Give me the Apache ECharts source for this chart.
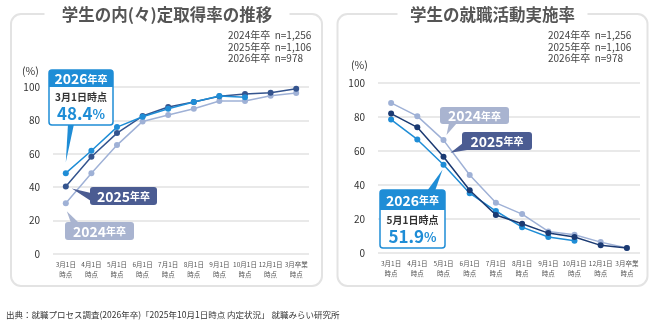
<!DOCTYPE html>
<html><head><meta charset="utf-8">
<script src="https://cdn.jsdelivr.net/npm/echarts@6/dist/echarts.min.js"></script>
<style>html,body{margin:0;padding:0;background:#fff}#c{width:650px;height:327px}</style>
</head><body><div id="c"></div>
<script>
const categories = ['3月1日\n時点','4月1日\n時点','5月1日\n時点','6月1日\n時点','7月1日\n時点','8月1日\n時点','9月1日\n時点','10月1日\n時点','12月1日\n時点','3月卒業\n時点'];
const yTicks = [0, 20, 40, 60, 80, 100];
// 内(々)定取得率
const naitei2024 = [30.4, 48.4, 65.2, 79.4, 83.2, 87.0, 91.6, 91.6, 94.8, 96.4];
const naitei2025 = [40.4, 58.2, 72.4, 82.6, 88.0, 91.0, 94.4, 95.8, 96.6, 99.0];
const naitei2026 = [48.4, 61.8, 76.0, 82.2, 87.0, 91.0, 94.6, 93.9, null, null];
// 就職活動実施率
const katsudo2024 = [88.3, 80.5, 66.4, 45.9, 29.5, 22.9, 12.7, 10.7, 6.4, 2.9];
const katsudo2025 = [82.0, 73.9, 56.6, 36.9, 22.4, 17.2, 11.7, 9.4, 4.5, 2.9];
const katsudo2026 = [78.5, 66.8, 51.9, 35.2, 24.7, 15.2, 9.4, 7.2, null, null];
const sampleLabels = ['2024年卒  n=1,256', '2025年卒  n=1,106', '2026年卒  n=978'];

const FONT = '"Noto Sans CJK JP", "Noto Sans", sans-serif';
const C26 = '#1f8dd6', C25L = '#34548e', C25R = '#1b3a72', C24 = '#9fb1d6';
const BOX25 = '#4b5c92', BOX24 = '#a9b4d0';

const chart = echarts.init(document.getElementById('c'), null, {renderer: 'canvas'});

function xAxis(gi) {
  return {type: 'category', gridIndex: gi, data: categories, boundaryGap: true,
    axisLine: {show: false}, axisTick: {show: false},
    axisLabel: {fontFamily: FONT, fontSize: 6.5, color: '#555', lineHeight: 10, margin: 6, interval: 0}};
}
function yAxis(gi) {
  return {type: 'value', gridIndex: gi, min: 0, max: 100, interval: 20,
    axisLine: {show: false}, axisTick: {show: false},
    axisLabel: {fontFamily: FONT, fontSize: 10, color: '#333', margin: 13},
    splitLine: {lineStyle: {color: '#e2e2e2', width: 1.5}}};
}
function line(name, data, color, xi, z) {
  return {name: name, type: 'line', xAxisIndex: xi, yAxisIndex: xi, data: data,
    symbol: 'circle', symbolSize: 6, z: z, animation: false,
    lineStyle: {color: color, width: 1.5}, itemStyle: {color: color}};
}

chart.setOption({
  animation: false,
  backgroundColor: '#fff',
  textStyle: {fontFamily: FONT},
  grid: [
    {left: 53, top: 87, width: 256, height: 167},
    {left: 378, top: 83, width: 262, height: 170}
  ],
  xAxis: [xAxis(0), xAxis(1)],
  yAxis: [yAxis(0), yAxis(1)],
  series: [
    line('2024年卒', naitei2024, C24, 0, 2),
    line('2025年卒', naitei2025, C25L, 0, 3),
    line('2026年卒', naitei2026, C26, 0, 4),
    line('2024年卒', katsudo2024, C24, 1, 2),
    line('2026年卒', katsudo2026, C26, 1, 3),
    line('2025年卒', katsudo2025, C25R, 1, 4)
  ]
});

function px(gi, i, v) { return chart.convertToPixel({xAxisIndex: gi, yAxisIndex: gi}, [i, v]); }

function panel(x, y, w, h, title, tx, tw) {
  return [
    {type: 'rect', shape: {x: x, y: y, width: w, height: h, r: 10}, style: {fill: 'none', stroke: '#e3e3e3', lineWidth: 2}, z: 0, silent: true},
    {type: 'rect', shape: {x: tx - tw / 2, y: y - 4, width: tw, height: 8}, style: {fill: '#fff'}, z: 1, silent: true},
    {type: 'text', x: tx, y: y + 1, style: {text: title, fontFamily: FONT, fontSize: 16.5, fontWeight: 'bold', fill: '#555', align: 'center', verticalAlign: 'middle'}, z: 2}
  ];
}
function nText(x) {
  const ys = [35, 47.3, 58.3];
  return sampleLabels.map((t, k) => ({type: 'text', x: x, y: ys[k], style: {text: t, fontFamily: FONT, fontSize: 10, fill: '#444', verticalAlign: 'middle'}, z: 5}));
}
function solidBox(x, y, w, h, fill, year, tip, base) {
  return [
    {type: 'polygon', shape: {points: [tip].concat(base)}, style: {fill: fill}, z: 10},
    {type: 'rect', shape: {x: x, y: y, width: w, height: h, r: 3}, style: {fill: fill}, z: 10},
    {type: 'text', x: x + w / 2, y: y + h / 2 + 0.5, style: {
      text: '{a|' + year + '}{b|年卒}', align: 'center', verticalAlign: 'middle',
      rich: {a: {fontFamily: FONT, fontSize: 14, fontWeight: 'bold', fill: '#fff'}, b: {fontFamily: FONT, fontSize: 10, fontWeight: 'bold', fill: '#fff'}}}, z: 11}
  ];
}
function detailBox(x, y, w, h, hh, when, value, tip, base) {
  return [
    {type: 'polygon', shape: {points: [tip].concat(base)}, style: {fill: C26}, z: 10},
    {type: 'rect', shape: {x: x, y: y, width: w, height: h, r: 3}, style: {fill: '#fff', stroke: C26, lineWidth: 1.5}, z: 10},
    {type: 'rect', shape: {x: x, y: y, width: w, height: hh, r: [3, 3, 0, 0]}, style: {fill: C26}, z: 11},
    {type: 'text', x: x + w / 2, y: y + hh / 2 + 0.5, style: {
      text: '{a|2026}{b|年卒}', align: 'center', verticalAlign: 'middle',
      rich: {a: {fontFamily: FONT, fontSize: 14, fontWeight: 'bold', fill: '#fff'}, b: {fontFamily: FONT, fontSize: 10, fontWeight: 'bold', fill: '#fff'}}}, z: 12},
    {type: 'text', x: x + w / 2, y: y + hh + 10, style: {text: when, fontFamily: FONT, fontSize: 10, fontWeight: 'bold', fill: '#333', align: 'center', verticalAlign: 'middle'}, z: 12},
    {type: 'text', x: x + w / 2, y: y + hh + 27, style: {
      text: '{a|' + value + '}{b|%}', align: 'center', verticalAlign: 'middle',
      rich: {a: {fontFamily: FONT, fontSize: 17, fontWeight: 'bold', fill: C26}, b: {fontFamily: FONT, fontSize: 13, fontWeight: 'bold', fill: C26}}}, z: 12}
  ];
}

const p26L = px(0, 0, naitei2026[0]);
const p25L = px(0, 0, naitei2025[0]);
const p24L = px(0, 0, naitei2024[0]);
const p24R = px(1, 2, katsudo2024[2]);
const p25R = px(1, 2, katsudo2025[2]);
const p26R = px(1, 2, katsudo2026[2]);

let g = [];
g = g.concat(panel(11, 14, 311, 272, '学生の内(々)定取得率の推移', 167, 245));
g = g.concat(panel(337.5, 14, 310, 272, '学生の就職活動実施率', 492.5, 190));
g = g.concat(nText(228), nText(548));
g.push({type: 'text', x: 22, y: 71, style: {text: '(%)', fontFamily: FONT, fontSize: 10.5, fill: '#333', verticalAlign: 'middle'}});
g.push({type: 'text', x: 351, y: 65, style: {text: '(%)', fontFamily: FONT, fontSize: 10.5, fill: '#333', verticalAlign: 'middle'}});
g.push({type: 'text', x: 6, y: 315, style: {text: '出典：就職プロセス調査(2026年卒)「2025年10月1日時点 内定状況」 就職みらい研究所', fontFamily: FONT, fontSize: 8.5, fill: '#333', verticalAlign: 'middle'}});

// left chart callouts
g = g.concat(detailBox(49, 70, 64, 55, 17, '3月1日時点', naitei2026[0].toFixed(1),
  [p26L[0], p26L[1] - 11], [[74, 124], [68, 124]]));
g = g.concat(solidBox(90, 187, 67, 18, BOX25, '2025',
  [p25L[0] + 6, p25L[1] + 2], [[91, 193], [91, 201]]));
g = g.concat(solidBox(65, 222, 69, 18, BOX24, '2024',
  [p24L[0] + 1, p24L[1] + 8], [[71, 223], [79, 223]]));
// right chart callouts
g = g.concat(solidBox(440, 107, 69, 17, BOX24, '2024',
  [p24R[0] + 3, p24R[1] - 5], [[449, 123], [457, 123]]));
g = g.concat(solidBox(462, 132, 70, 18, BOX25, '2025',
  [p25R[0] + 7, p25R[1] - 4], [[463, 143], [473, 149]]));
g = g.concat(detailBox(380, 190, 65, 58, 20, '5月1日時点', katsudo2026[2].toFixed(1),
  [p26R[0] - 1, p26R[1] + 5], [[427, 191], [435, 191]]));

chart.setOption({graphic: {elements: g}});
</script></body></html>
